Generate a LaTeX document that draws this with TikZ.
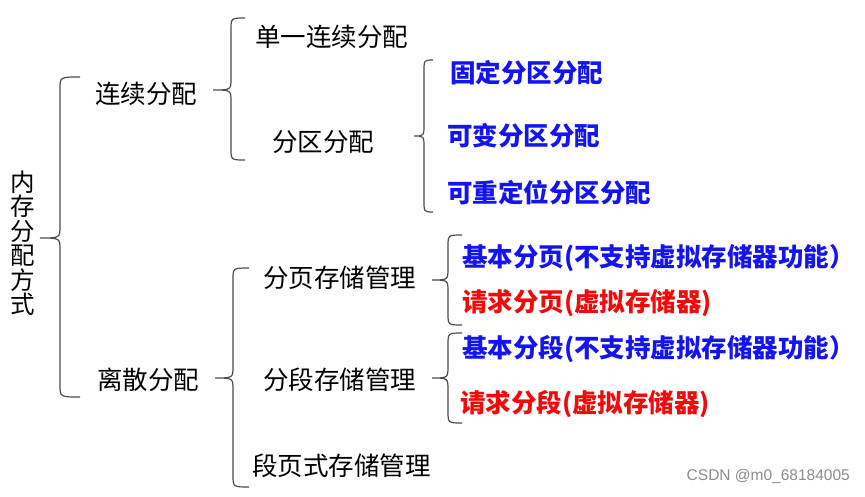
\documentclass[tikz,border=0pt]{standalone}
\usepackage{fontspec}
\setmainfont{Noto Sans CJK SC}
\newfontfamily\wm{Liberation Sans}
\newcommand\drawbrace[6]{% xe xv xt ytop ymid ybot
  \draw[brc] (#1,#4) .. controls (#2,#4) .. (#2,{#4+12}) -- (#2,{#5-12})
    .. controls (#2,#5) .. (#3,#5) .. controls (#2,#5) .. (#2,{#5+12})
    -- (#2,{#6-12}) .. controls (#2,#6) .. (#1,#6);}
\tikzset{
  brc/.style={draw=black!70, line width=1.2pt},
  lbl/.style={anchor=west, inner sep=0pt, font=\fontsize{25.5}{28}\selectfont},
  blu/.style={lbl, text={rgb,255:red,20;green,20;blue,240}, font=\fontsize{25.5}{28}\selectfont\bfseries},
  rd/.style={lbl, text={rgb,255:red,240;green,10;blue,10}, font=\fontsize{25.5}{28}\selectfont\bfseries},
}
\begin{document}
\begin{tikzpicture}[x=1pt,y=-1pt]
\useasboundingbox[fill=white] (0,0) rectangle (865,496);
% nodes
\node[inner sep=0pt, align=center, font=\fontsize{24.5}{24.5}\selectfont] (root) at (23,243) {内\\存\\分\\配\\方\\式};
\node[lbl] (lx) at (95,94) {连续分配};
\node[lbl] (ls) at (97,380) {离散分配};
\node[lbl] (dy) at (255,37) {单一连续分配};
\node[lbl] (fq) at (272,142) {分区分配};
\node[blu] (gd) at (450,73) {固定分区分配};
\node[blu] (kb) at (447,136) {可变分区分配};
\node[blu] (kc) at (447,193) {可重定位分区分配};
\node[lbl] (fy) at (263,278) {分页存储管理};
\node[lbl] (fd) at (263,380) {分段存储管理};
\node[lbl] (dyc) at (252,466) {段页式存储管理};
\node[blu] (jbfy) at (462,258) {基本分页(不支持虚拟存储器功能）};
\node[rd] (qqfy) at (462,303) {请求分页(虚拟存储器)};
\node[blu] (jbfd) at (462,349) {基本分段(不支持虚拟存储器功能）};
\node[rd] (qqfd) at (460,404) {请求分段(虚拟存储器)};
\node[anchor=east, inner sep=0pt, text=black!45, font=\wm\fontsize{15.5}{17}\selectfont] (wmk) at (850,476) {CSDN @m0\_68184005};
% braces
\drawbrace{80}{60}{40}{77}{238}{397}
\drawbrace{245}{231}{213}{18}{90}{160}
\drawbrace{433}{424}{414}{60}{136}{212}
\drawbrace{249}{233}{215}{268}{378}{487}
\drawbrace{462}{448}{432}{235}{280}{325}
\drawbrace{462}{448}{432}{333}{378}{423}
\end{tikzpicture}
\end{document}
